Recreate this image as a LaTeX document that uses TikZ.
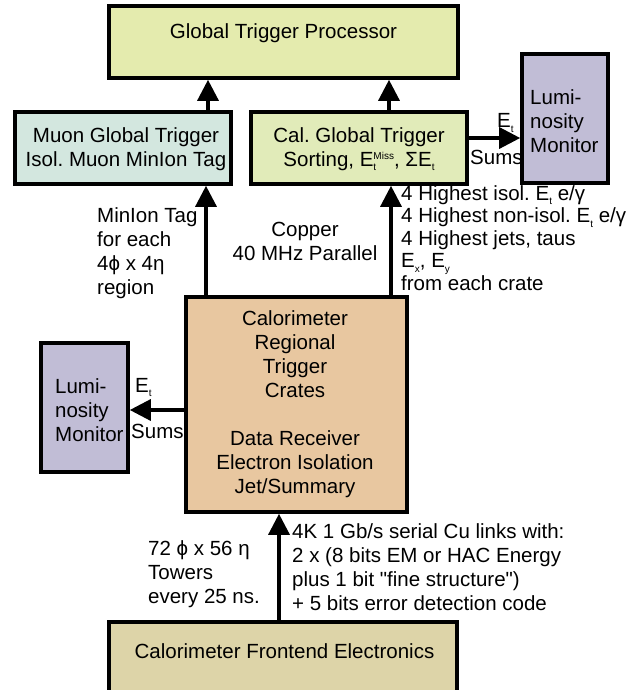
\documentclass[tikz,border=0pt]{standalone}
\usepackage{fontspec}
\setmainfont{Liberation Sans}[Ligatures=TeXOff]
\usetikzlibrary{arrows.meta}
\frenchspacing

\definecolor{gtpfill}{HTML}{E4EBAE}
\definecolor{cgtfill}{HTML}{E1EBB9}
\definecolor{muonfill}{HTML}{D3E7DF}
\definecolor{lumfill}{HTML}{C1BDD6}
\definecolor{cratefill}{HTML}{E8C7A0}
\definecolor{fefill}{HTML}{DDD4A8}

% small lowered / raised index text
\newcommand\lowtxt[1]{\raisebox{-4.5pt}{\fontsize{10}{10}\selectfont #1}}
\newcommand\hightxt[1]{\raisebox{7pt}{\fontsize{10}{10}\selectfont #1}}

\tikzset{
  blk/.style={draw=black, line width=3.6pt, inner sep=0pt},
  flow/.style={line width=3.3pt, -{Triangle[length=21pt,width=21pt]}},
  txt/.style={font=\fontsize{20.5}{24}\selectfont, inner sep=0pt, align=center},
  ltxt/.style={txt, align=left, anchor=west},
  btxt/.style={font=\fontsize{20.5}{24}\selectfont, inner sep=0pt, anchor=base west},
}

\begin{document}
\begin{tikzpicture}[x=1pt,y=-1pt]
\clip (0,0) rectangle (633,690);
\fill[white] (0,0) rectangle (633,690);

% boxes
\node[blk, fill=gtpfill, minimum width=349pt, minimum height=72pt] (gtp) at (283.5,42) {};
\node[txt] (gtpT) at (283.5,33) {Global Trigger Processor};

\node[blk, fill=muonfill, minimum width=216pt, minimum height=72pt] (muon) at (123,148) {};
\node[txt] (muonT) at (126,149) {Muon Global Trigger\\Isol. Muon MinIon Tag};

\node[blk, fill=cgtfill, minimum width=216pt, minimum height=72pt] (cgt) at (359,148) {};
\node[txt] (cgtT) at (359,149) {Cal. Global Trigger\\Sorting, E\rlap{\lowtxt{t}}\hightxt{Miss}, ΣE\lowtxt{t}};

\node[blk, fill=lumfill, minimum width=86pt, minimum height=129pt] (lumA) at (565,118.5) {};
\node[ltxt] (lumAT) at (530,121) {Lumi-\\nosity\\Monitor};

\node[blk, fill=lumfill, minimum width=87pt, minimum height=129pt] (lumB) at (84.5,407.5) {};
\node[ltxt] (lumBT) at (55,410) {Lumi-\\nosity\\Monitor};

\node[blk, fill=cratefill, minimum width=221pt, minimum height=215pt] (crates) at (296.5,404.5) {};
\node[txt] (cratesT) at (295,404) {Calorimeter\\Regional\\Trigger\\Crates\\[24pt]Data Receiver\\Electron Isolation\\Jet/Summary};

\node[blk, fill=fefill, minimum width=348pt, minimum height=90pt] (fe) at (283,667) {};
\node[txt] (feT) at (284.5,651) {Calorimeter Frontend Electronics};

% connector positions
\coordinate (xa) at (208,0);
\coordinate (xb) at (389,0);
\coordinate (xc) at (206,0);
\coordinate (xd) at (391,0);
\coordinate (xe) at (279,0);
\coordinate (ya) at (0,138);
\coordinate (yb) at (0,410);

% connectors
\draw[flow] (muon.north -| xa) -- (gtp.south -| xa);
\draw[flow] (cgt.north -| xb) -- (gtp.south -| xb);
\draw[flow] (crates.north -| xc) -- (muon.south -| xc);
\draw[flow] (crates.north -| xd) -- (cgt.south -| xd);
\draw[flow] (cgt.east |- ya) -- (lumA.west |- ya);
\draw[flow] (crates.west |- yb) -- (lumB.east |- yb);
\draw[flow] (fe.north -| xe) -- (crates.south -| xe);

% connector labels
\node[btxt] (etA) at (497,128) {E\lowtxt{t}};
\node[btxt] (sumA) at (470,164) {Sums};
\node[btxt] (etB) at (135,392) {E\lowtxt{t}};
\node[btxt] (sumB) at (131,438) {Sums};

\node[ltxt] (minion) at (97,253) {MinIon Tag\\for each\\4ϕ x 4η\\region};
\node[txt] (copper) at (305,241) {Copper\\40 MHz Parallel};
\node[ltxt, font=\fontsize{20.5}{22.5}\selectfont] (sortout) at (401,238)
  {4 Highest isol. E\lowtxt{t} e/γ\\4 Highest non-isol. E\lowtxt{t} e/γ\\4 Highest jets, taus\\E\lowtxt{x}, E\lowtxt{y}\\from each crate};
\node[ltxt] (towers) at (148,574) {72 ϕ x 56 η\\Towers\\every 25 ns.};
\node[ltxt] (links) at (292,567) {4K 1 Gb/s serial Cu links with:\\2 x (8 bits EM or HAC Energy\\plus 1 bit "fine structure")\\+ 5 bits error detection code};
\end{tikzpicture}
\end{document}
